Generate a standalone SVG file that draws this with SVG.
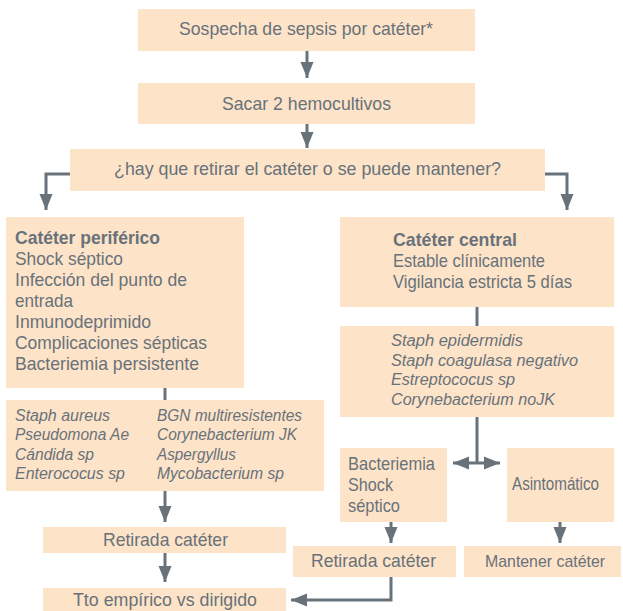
<svg xmlns="http://www.w3.org/2000/svg" width="623" height="611" viewBox="0 0 623 611">
<defs>
<style>
.box{fill:#fde3c8;}
.t{font-family:"Liberation Sans",Arial,sans-serif;font-size:19px;fill:#68727a;}
.b{font-weight:bold;}
.i{font-size:16px;font-style:italic;}
.ln{stroke:#68727a;stroke-width:3;fill:none;}
</style>
<marker id="ah" markerUnits="userSpaceOnUse" markerWidth="16" markerHeight="14" viewBox="0 0 16 14" refX="16" refY="7" orient="auto-start-reverse">
<path d="M0,0.5 L16,7 L0,13.5 z" fill="#68727a"/>
</marker>
</defs>
<rect width="623" height="611" fill="#ffffff"/>
<g id="connectors">
<line class="ln" x1="307" y1="51" x2="307" y2="78" marker-end="url(#ah)"/>
<line class="ln" x1="307" y1="124" x2="307" y2="148" marker-end="url(#ah)"/>
<polyline class="ln" points="70,174 46,174 46,210" marker-end="url(#ah)"/>
<polyline class="ln" points="545,174 567,174 567,210" marker-end="url(#ah)"/>
<line class="ln" x1="165" y1="388" x2="165" y2="400"/>
<line class="ln" x1="165" y1="491" x2="165" y2="522" marker-end="url(#ah)"/>
<line class="ln" x1="165" y1="553" x2="165" y2="582" marker-end="url(#ah)"/>
<line class="ln" x1="477" y1="307" x2="477" y2="326"/>
<line class="ln" x1="477" y1="417" x2="477" y2="463"/>
<line class="ln" x1="453" y1="463" x2="500" y2="463" marker-start="url(#ah)" marker-end="url(#ah)"/>
<line class="ln" x1="391" y1="522" x2="391" y2="543" marker-end="url(#ah)"/>
<line class="ln" x1="560" y1="522" x2="560" y2="543" marker-end="url(#ah)"/>
<polyline class="ln" points="391,577 391,600 291,600" marker-end="url(#ah)"/>
</g>
<g id="n1">
<rect class="box" x="138" y="9" width="337" height="42"/>
<text class="t" x="179" y="35" textLength="254" lengthAdjust="spacingAndGlyphs">Sospecha de sepsis por catéter*</text>
</g>
<g id="n2">
<rect class="box" x="138" y="83" width="337" height="41"/>
<text class="t" x="222" y="110" textLength="169" lengthAdjust="spacingAndGlyphs">Sacar 2 hemocultivos</text>
</g>
<g id="n3">
<rect class="box" x="70" y="149" width="475" height="42"/>
<text class="t" x="114" y="175" textLength="387" lengthAdjust="spacingAndGlyphs">¿hay que retirar el catéter o se puede mantener?</text>
</g>
<g id="periferico">
<rect class="box" x="6" y="217" width="238" height="171"/>
<text class="t b" x="15" y="244" textLength="145" lengthAdjust="spacingAndGlyphs">Catéter periférico</text>
<text class="t" x="15" y="265" textLength="108" lengthAdjust="spacingAndGlyphs">Shock séptico</text>
<text class="t" x="15" y="286" textLength="172" lengthAdjust="spacingAndGlyphs">Infección del punto de</text>
<text class="t" x="15" y="307" textLength="58" lengthAdjust="spacingAndGlyphs">entrada</text>
<text class="t" x="15" y="328" textLength="136" lengthAdjust="spacingAndGlyphs">Inmunodeprimido</text>
<text class="t" x="15" y="349" textLength="192" lengthAdjust="spacingAndGlyphs">Complicaciones sépticas</text>
<text class="t" x="15" y="370" textLength="184" lengthAdjust="spacingAndGlyphs">Bacteriemia persistente</text>
</g>
<g id="germenes-periferico">
<rect class="box" x="6" y="400" width="318" height="91"/>
<text class="t i" x="15" y="421" textLength="95" lengthAdjust="spacingAndGlyphs">Staph aureus</text>
<text class="t i" x="15" y="440" textLength="114" lengthAdjust="spacingAndGlyphs">Pseudomona Ae</text>
<text class="t i" x="15" y="460" textLength="79" lengthAdjust="spacingAndGlyphs">Cándida sp</text>
<text class="t i" x="15" y="479" textLength="110" lengthAdjust="spacingAndGlyphs">Enterococus sp</text>
<text class="t i" x="157" y="421" textLength="145" lengthAdjust="spacingAndGlyphs">BGN multiresistentes</text>
<text class="t i" x="157" y="440" textLength="140" lengthAdjust="spacingAndGlyphs">Corynebacterium JK</text>
<text class="t i" x="157" y="460" textLength="79" lengthAdjust="spacingAndGlyphs">Aspergyllus</text>
<text class="t i" x="157" y="479" textLength="127" lengthAdjust="spacingAndGlyphs">Mycobacterium sp</text>
</g>
<g id="retirada-izq">
<rect class="box" x="43" y="527" width="243" height="26"/>
<text class="t" x="103" y="546" textLength="125" lengthAdjust="spacingAndGlyphs">Retirada catéter</text>
</g>
<g id="tto">
<rect class="box" x="43" y="588" width="243" height="23"/>
<text class="t" x="73" y="606" textLength="184" lengthAdjust="spacingAndGlyphs">Tto empírico vs dirigido</text>
</g>
<g id="central">
<rect class="box" x="340" y="217" width="274" height="90"/>
<text class="t b" x="393" y="246" textLength="124" lengthAdjust="spacingAndGlyphs">Catéter central</text>
<text class="t" x="393" y="267" textLength="152" lengthAdjust="spacingAndGlyphs">Estable clínicamente</text>
<text class="t" x="393" y="288" textLength="179" lengthAdjust="spacingAndGlyphs">Vigilancia estricta 5 días</text>
</g>
<g id="germenes-central">
<rect class="box" x="340" y="326" width="274" height="91"/>
<text class="t i" x="391" y="346" textLength="132" lengthAdjust="spacingAndGlyphs">Staph epidermidis</text>
<text class="t i" x="391" y="366" textLength="187" lengthAdjust="spacingAndGlyphs">Staph coagulasa negativo</text>
<text class="t i" x="391" y="385" textLength="124" lengthAdjust="spacingAndGlyphs">Estreptococus sp</text>
<text class="t i" x="391" y="405" textLength="164" lengthAdjust="spacingAndGlyphs">Corynebacterium noJK</text>
</g>
<g id="bacteriemia">
<rect class="box" x="340" y="448" width="107" height="74"/>
<text class="t" x="348" y="470" textLength="87" lengthAdjust="spacingAndGlyphs">Bacteriemia</text>
<text class="t" x="348" y="491" textLength="45" lengthAdjust="spacingAndGlyphs">Shock</text>
<text class="t" x="348" y="512" textLength="52" lengthAdjust="spacingAndGlyphs">séptico</text>
</g>
<g id="asintomatico">
<rect class="box" x="507" y="448" width="107" height="74"/>
<text class="t" x="512" y="490" textLength="87" lengthAdjust="spacingAndGlyphs">Asintomático</text>
</g>
<g id="retirada-der">
<rect class="box" x="293" y="546" width="163" height="31"/>
<text class="t" x="311" y="567" textLength="125" lengthAdjust="spacingAndGlyphs">Retirada catéter</text>
</g>
<g id="mantener">
<rect class="box" x="464" y="546" width="157" height="31"/>
<text class="t" x="545" y="567" text-anchor="middle" style="font-size:17px" textLength="120" lengthAdjust="spacingAndGlyphs">Mantener catéter</text>
</g>
</svg>
